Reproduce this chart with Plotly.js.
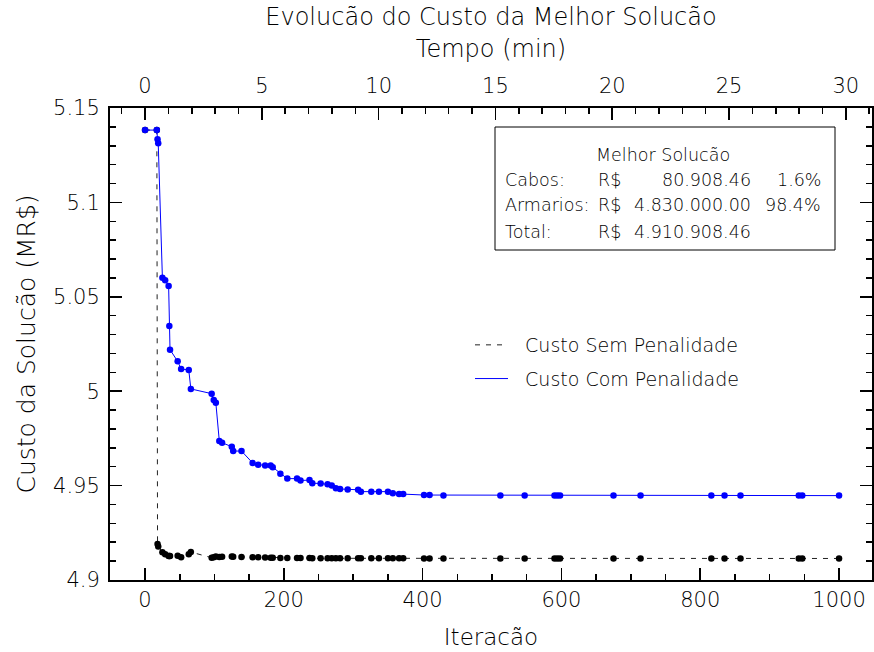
<!DOCTYPE html>
<html><head><meta charset="utf-8">
<script src="https://cdn.plot.ly/plotly-3.0.1.min.js"></script>
<style>html,body{margin:0;padding:0;background:#fff}#chart{width:874px;height:652px}</style>
</head><body><div id="chart"></div><script>
const iterations = [0,17,18,19,25,29,34,35,36,47,52,63,66,96,99,102,107,111,125,127,139,155,163,173,181,184,195,205,219,224,237,241,253,263,269,275,281,292,307,311,326,337,350,357,366,372,402,410,430,512,547,590,594,598,675,714,816,835,858,942,947,1000];
const custoComPenalidade = [5.1383,5.1383,5.1334,5.1313,5.0601,5.0587,5.0557,5.0345,5.0220,5.0158,5.0118,5.0112,5.0012,4.9987,4.9953,4.9939,4.9736,4.9727,4.9706,4.9683,4.9683,4.9620,4.9611,4.9607,4.9607,4.9597,4.9563,4.9537,4.9537,4.9527,4.9529,4.9513,4.9511,4.9507,4.9500,4.9486,4.9482,4.9480,4.9478,4.9468,4.9468,4.9468,4.9468,4.9460,4.9455,4.9455,4.9450,4.9450,4.9447,4.9447,4.9447,4.9447,4.9447,4.9447,4.9447,4.9447,4.9447,4.9447,4.9447,4.9447,4.9447,4.9447];
const custoSemPenalidade = [5.1383,5.1383,4.9191,4.9177,4.9147,4.9136,4.9127,4.9127,4.9127,4.9129,4.9120,4.9136,4.9148,4.9118,4.9120,4.9124,4.9122,4.9123,4.9124,4.9123,4.9122,4.9120,4.9120,4.9119,4.9118,4.9118,4.9117,4.9116,4.9116,4.9116,4.9116,4.9115,4.9115,4.9115,4.9115,4.9115,4.9115,4.9115,4.9115,4.9115,4.9115,4.9115,4.9115,4.9115,4.9115,4.9115,4.9114,4.9114,4.9114,4.9114,4.9114,4.9114,4.9114,4.9114,4.9114,4.9114,4.9114,4.9114,4.9114,4.9114,4.9114,4.9114];
const xTickValues = [0,200,400,600,800,1000];
const yTickValues = [4.9,4.95,5,5.05,5.1,5.15];
const timeTickValues = [0,5,10,15,20,25,30];
const seriesNames = ['Custo Sem Penalidade','Custo Com Penalidade'];
const boxTitle = 'Melhor Solucão';
const boxLabels = ['Cabos:','Armarios:','Total:'];
const boxCurrency = ['R$','R$','R$'];
const boxValues = ['80.908.46','4.830.000.00','4.910.908.46'];
const boxPercents = ['1.6%','98.4%',''];

const FONT = 'DejaVu Sans';
const TXT = '#000';
const M = {l:110, r:2, t:108, b:72};
const PW = 874 - M.l - M.r, PH = 652 - M.t - M.b;
const px = x => (x - M.l) / PW;
const py = y => (652 - M.b - y) / PH;
const f = s => ({family: FONT, size: s, color: TXT, weight: 200});
const pad = '\u00a0\u00a0';

const traces = [
  {x: iterations, y: custoSemPenalidade, name: pad + seriesNames[0], mode: 'lines', legendgroup:'a',
   line: {color: '#222', width: 1, dash: '5px,6px'}},
  {x: iterations, y: custoSemPenalidade, mode: 'markers', showlegend: false,
   marker: {color: '#000', size: 6.5}},
  {x: iterations, y: custoComPenalidade, name: pad + seriesNames[1], mode: 'lines', legendgroup:'b',
   line: {color: '#0000ff', width: 1}},
  {x: iterations, y: custoComPenalidade, mode: 'markers', showlegend: false,
   marker: {color: '#0000ff', size: 6.5}},
  {x: [], y: [], xaxis: 'x2', showlegend: false, hoverinfo: 'skip'}
];

const tickFont = f(21);
const annotations = [];
const boxFont = f(17.5);
annotations.push({xref:'paper', yref:'paper', x: px(663), y: py(155), text: boxTitle, showarrow:false, xanchor:'center', yanchor:'middle', font: boxFont});
const rowY = [180, 205.5, 231.5];
boxLabels.forEach((t,i) => {
  annotations.push({xref:'paper', yref:'paper', x: px(503), y: py(rowY[i]), text: t, showarrow:false, xanchor:'left', yanchor:'middle', font: boxFont});
  annotations.push({xref:'paper', yref:'paper', x: px(596), y: py(rowY[i]), text: boxCurrency[i], showarrow:false, xanchor:'left', yanchor:'middle', font: boxFont});
  annotations.push({xref:'paper', yref:'paper', x: px(753), y: py(rowY[i]), text: boxValues[i], showarrow:false, xanchor:'right', yanchor:'middle', font: boxFont});
  if (boxPercents[i]) annotations.push({xref:'paper', yref:'paper', x: px(823), y: py(rowY[i]), text: boxPercents[i], showarrow:false, xanchor:'right', yanchor:'middle', font: boxFont});
});

const layout = {
  width: 874, height: 652, margin: M,
  paper_bgcolor: '#fff', plot_bgcolor: '#fff',
  font: {family: FONT, color: TXT, weight: 200},
  title: {text: 'Evolucão do Custo da Melhor Solucão', x: 0.5, xref: 'paper', xanchor: 'center',
          y: 1 - 17/652, yref: 'container', yanchor: 'middle', font: f(24)},
  showlegend: true,
  legend: {x: px(470), y: py(326), xanchor: 'left', yanchor: 'top', bgcolor: 'rgba(0,0,0,0)', borderwidth: 0,
           font: f(19), itemwidth: 33, tracegroupgap: 6},
  xaxis: {range: [-50.5, 1047.5], tickmode: 'array', tickvals: xTickValues, ticks: 'inside', ticklen: 12, tickwidth: 1.5,
          tickcolor: '#000', showline: true, linecolor: '#000', linewidth: 2, showgrid: false, zeroline: false,
          tickfont: tickFont, mirror: false,
          minor: {dtick: 50, tick0: 0, ticks: 'inside', ticklen: 6, tickwidth: 1.5, tickcolor: '#000', showgrid: false},
          title: {text: 'Iteracão', font: f(23), standoff: 18}},
  xaxis2: {overlaying: 'x', side: 'top', anchor: 'y', range: [-1.5, 31.12], tickmode: 'array', tickvals: timeTickValues,
           ticks: 'inside', ticklen: 12, tickwidth: 1.5, tickcolor: '#000', showline: true, linecolor: '#000', linewidth: 2,
           showgrid: false, zeroline: false, tickfont: tickFont, ticklabelstandoff: 5,
           minor: {dtick: 1, tick0: 0, ticks: 'inside', ticklen: 6, tickwidth: 1.5, tickcolor: '#000', showgrid: false},
           title: {text: 'Tempo (min)', font: f(24), standoff: 9}},
  yaxis: {range: [4.9, 5.15], tickmode: 'array', tickvals: yTickValues, ticks: 'inside', ticklen: 12, tickwidth: 1.5,
          tickcolor: '#000', showline: true, linecolor: '#000', linewidth: 2, showgrid: false, zeroline: false,
          mirror: 'ticks', tickfont: tickFont, ticklabelstandoff: 4,
          minor: {dtick: 0.01, tick0: 4.9, ticks: 'inside', ticklen: 6, tickwidth: 1.5, tickcolor: '#000', showgrid: false},
          title: {text: 'Custo da Solucão (MR$)', font: f(25), standoff: 10}},
  shapes: [{type: 'rect', xref: 'paper', yref: 'paper', x0: px(495), x1: px(835), y0: py(250), y1: py(127),
            line: {color: '#000', width: 1}, fillcolor: '#fff', layer: 'above'}],
  annotations: annotations
};
Plotly.newPlot('chart', traces, layout, {displayModeBar: false, staticPlot: true});
</script></body></html>
